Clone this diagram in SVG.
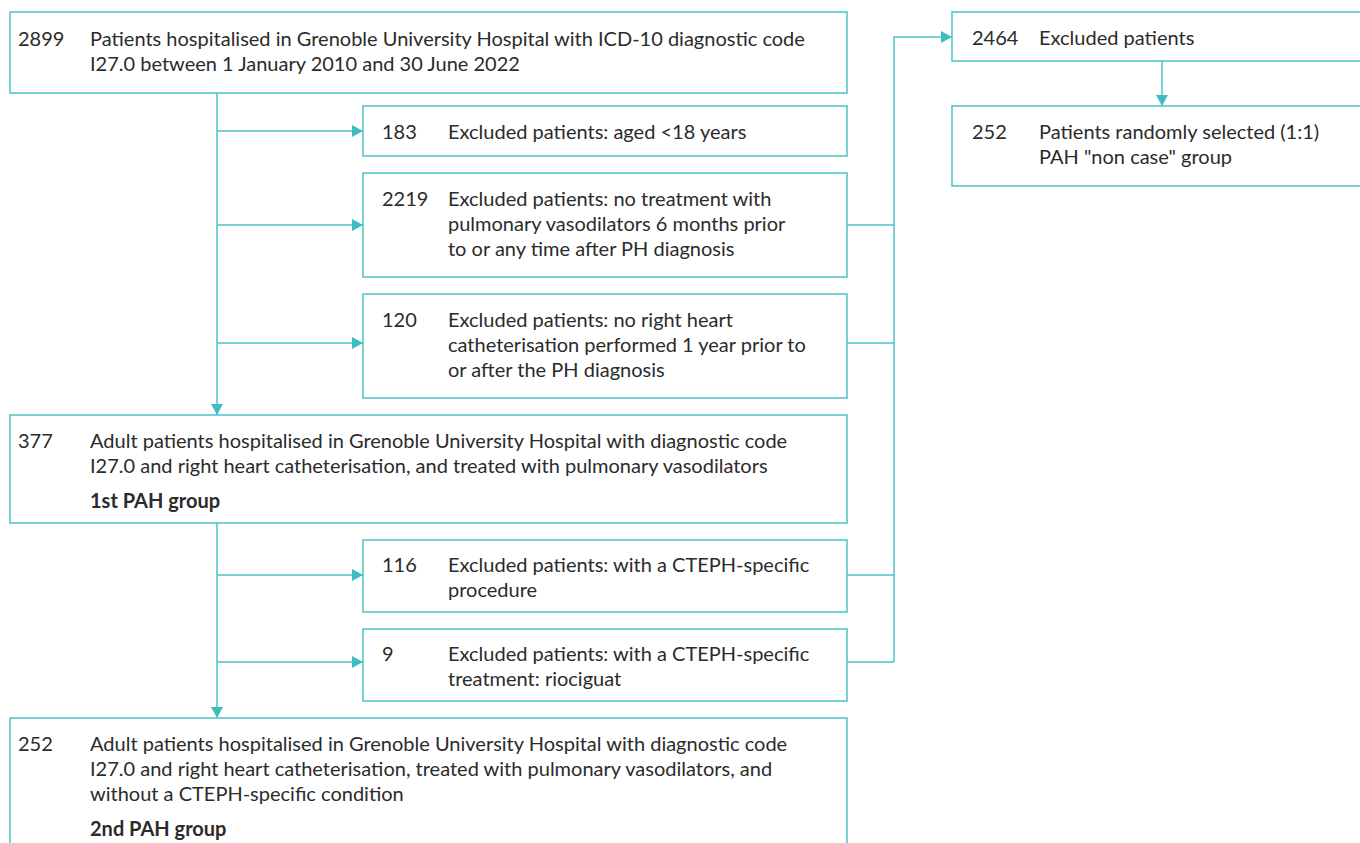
<svg xmlns="http://www.w3.org/2000/svg" width="1360" height="843" viewBox="0 0 1360 843">
<defs>
<style>
.box{fill:#fff;stroke:#4cc2c6;stroke-width:1.5}
.ln{fill:none;stroke:#4cc2c6;stroke-width:1.5}
text{font-family:"Lato","Liberation Sans",sans-serif;font-size:20px;fill:#2b2b2b}
.b{font-weight:bold}
</style>
<marker id="ah" viewBox="0 0 11 12" refX="11" refY="6" markerWidth="11" markerHeight="12" markerUnits="userSpaceOnUse" orient="auto">
<path d="M0,0 L11,6 L0,12 Z" fill="#3fbcc1"/>
</marker>
</defs>
<rect width="1360" height="843" fill="#fff"/>
<g id="connectors">
<path class="ln" d="M217,93 V415" marker-end="url(#ah)"/>
<path class="ln" d="M217,131 H363" marker-end="url(#ah)"/>
<path class="ln" d="M217,225 H363" marker-end="url(#ah)"/>
<path class="ln" d="M217,343 H363" marker-end="url(#ah)"/>
<path class="ln" d="M217,523 V718" marker-end="url(#ah)"/>
<path class="ln" d="M217,575 H363" marker-end="url(#ah)"/>
<path class="ln" d="M217,662 H363" marker-end="url(#ah)"/>
<path class="ln" d="M847,225 H894 M847,343 H894 M847,575 H894 M847,662 H894"/>
<path class="ln" d="M894,662 V37 H952" marker-end="url(#ah)"/>
<path class="ln" d="M1162,61 V106" marker-end="url(#ah)"/>
</g>
<g id="n2899">
<rect class="box" x="10" y="12" width="837" height="81"/>
<text x="18" y="46">2899</text>
<text x="90" y="46">Patients hospitalised in Grenoble University Hospital with ICD-10 diagnostic code</text>
<text x="90" y="71">I27.0 between 1 January 2010 and 30 June 2022</text>
</g>
<g id="n183">
<rect class="box" x="363" y="106" width="484" height="50"/>
<text x="382" y="139">183</text>
<text x="448" y="139">Excluded patients: aged &lt;18 years</text>
</g>
<g id="n2219">
<rect class="box" x="363" y="173" width="484" height="104"/>
<text x="382" y="206">2219</text>
<text x="448" y="206">Excluded patients: no treatment with</text>
<text x="448" y="231">pulmonary vasodilators 6 months prior</text>
<text x="448" y="256">to or any time after PH diagnosis</text>
</g>
<g id="n120">
<rect class="box" x="363" y="294" width="484" height="104"/>
<text x="382" y="327">120</text>
<text x="448" y="327">Excluded patients: no right heart</text>
<text x="448" y="352">catheterisation performed 1 year prior to</text>
<text x="448" y="377">or after the PH diagnosis</text>
</g>
<g id="n377">
<rect class="box" x="10" y="415" width="837" height="108"/>
<text x="18" y="448">377</text>
<text x="90" y="448">Adult patients hospitalised in Grenoble University Hospital with diagnostic code</text>
<text x="90" y="473">I27.0 and right heart catheterisation, and treated with pulmonary vasodilators</text>
<text class="b" x="90" y="508">1st PAH group</text>
</g>
<g id="n116">
<rect class="box" x="363" y="540" width="484" height="72"/>
<text x="382" y="572">116</text>
<text x="448" y="572">Excluded patients: with a CTEPH-specific</text>
<text x="448" y="597">procedure</text>
</g>
<g id="n9">
<rect class="box" x="363" y="629" width="484" height="72"/>
<text x="382" y="661">9</text>
<text x="448" y="661">Excluded patients: with a CTEPH-specific</text>
<text x="448" y="686">treatment: riociguat</text>
</g>
<g id="n252b">
<rect class="box" x="10" y="718" width="837" height="140"/>
<text x="18" y="751">252</text>
<text x="90" y="751">Adult patients hospitalised in Grenoble University Hospital with diagnostic code</text>
<text x="90" y="776">I27.0 and right heart catheterisation, treated with pulmonary vasodilators, and</text>
<text x="90" y="801">without a CTEPH-specific condition</text>
<text class="b" x="90" y="836">2nd PAH group</text>
</g>
<g id="n2464">
<rect class="box" x="952" y="12" width="420" height="49"/>
<text x="972" y="45">2464</text>
<text x="1039" y="45">Excluded patients</text>
</g>
<g id="n252a">
<rect class="box" x="952" y="106" width="420" height="80"/>
<text x="972" y="139">252</text>
<text x="1039" y="139">Patients randomly selected (1:1)</text>
<text x="1039" y="164">PAH "non case" group</text>
</g>
</svg>
